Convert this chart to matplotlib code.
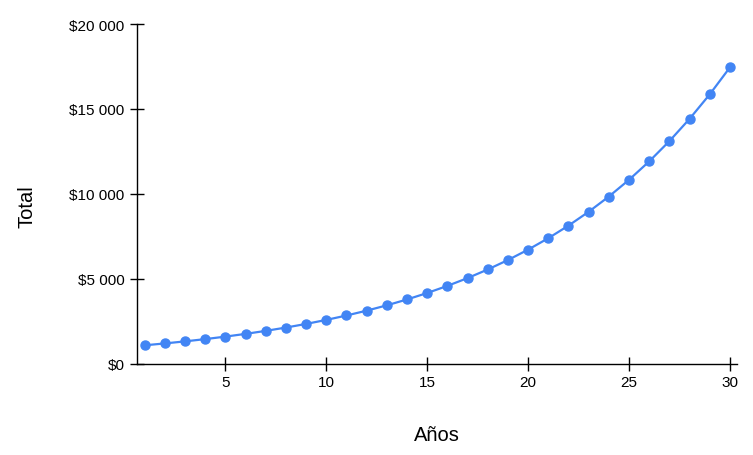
import matplotlib.pyplot as plt
from matplotlib.ticker import FuncFormatter

plt.rcParams['font.family'] = ['Liberation Sans', 'DejaVu Sans']

# datos
anios = list(range(1, 31))
total = [1100, 1210, 1331, 1464, 1611, 1772, 1949, 2144, 2358, 2594,
         2853, 3138, 3452, 3797, 4177, 4595, 5054, 5560, 6116, 6727,
         7400, 8140, 8954, 9850, 10835, 11918, 13110, 14421, 15863, 17449]
x_ticks = [5, 10, 15, 20, 25, 30]
y_ticks = [0, 5000, 10000, 15000, 20000]

fig = plt.figure(figsize=(7.53, 4.56), dpi=100)
ax = fig.add_axes([137 / 753, 91 / 456, 600 / 753, 340 / 456])

ax.plot(anios, total, color='#4285f4', linewidth=1.6,
        marker='o', markersize=6.5, clip_on=False, zorder=3)

ax.set_xlim(0.62, 30.35)
ax.set_ylim(0, 20000)
ax.set_xticks(x_ticks)
ax.set_yticks(y_ticks)

def fmt_dinero(v, pos):
    return '$' + f'{int(v):,}'.replace(',', ' ')

ax.yaxis.set_major_formatter(FuncFormatter(fmt_dinero))

for side in ['top', 'right']:
    ax.spines[side].set_visible(False)
for side in ['left', 'bottom']:
    ax.spines[side].set_color('black')
    ax.spines[side].set_linewidth(1)

ax.tick_params(axis='both', direction='inout', length=10, width=1,
               labelsize=11, colors='black', pad=4)
ax.tick_params(axis='x', pad=3)

fig.text(437 / 753, 1 - 436 / 456, 'Años', ha='center', va='center', fontsize=14.5)
fig.text(27 / 753, 1 - 207 / 456, 'Total', ha='center', va='center',
         fontsize=14.5, rotation=90)

fig.savefig('out.png', dpi=100)
